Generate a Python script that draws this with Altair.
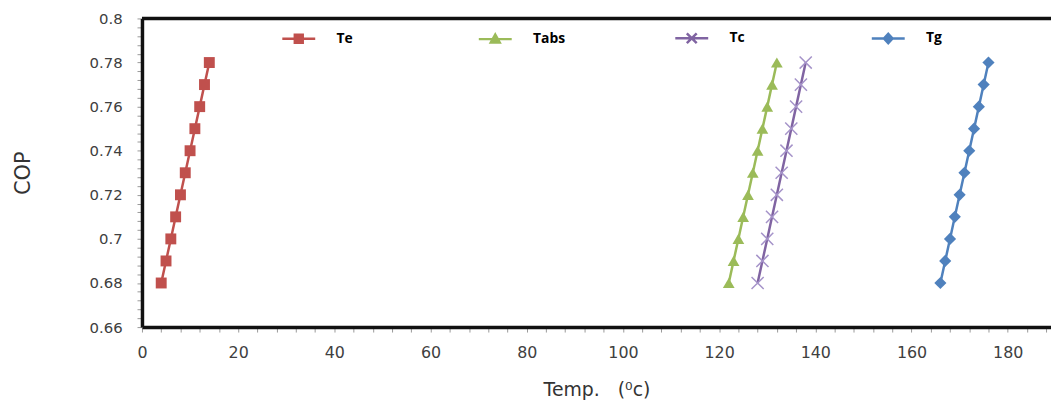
import altair as alt
import pandas as pd

series = ["Te", "Tabs", "Tc", "Tg"]
cop = [0.68, 0.69, 0.70, 0.71, 0.72, 0.73, 0.74, 0.75, 0.76, 0.77, 0.78]
temp_te = [4, 5, 6, 7, 8, 9, 10, 11, 12, 13, 14]
temp_tabs = [122, 123, 124, 125, 126, 127, 128, 129, 130, 131, 132]
temp_tc = [128, 129, 130, 131, 132, 133, 134, 135, 136, 137, 138]
temp_tg = [166, 167, 168, 169, 170, 171, 172, 173, 174, 175, 176]
colors = ["#C0504D", "#9BBB59", "#8064A2", "#4F81BD"]
x_ticks = [0, 4, 8, 12, 16, 20, 24, 28, 32, 36, 40, 44, 48, 52, 56, 60, 64, 68, 72, 76, 80,
           84, 88, 92, 96, 100, 104, 108, 112, 116, 120, 124, 128, 132, 136, 140, 144, 148,
           152, 156, 160, 164, 168, 172, 176, 180, 184, 188]
y_ticks = [0.66, 0.664, 0.668, 0.672, 0.676, 0.68, 0.684, 0.688, 0.692, 0.696, 0.70, 0.704,
           0.708, 0.712, 0.716, 0.72, 0.724, 0.728, 0.732, 0.736, 0.74, 0.744, 0.748, 0.752,
           0.756, 0.76, 0.764, 0.768, 0.772, 0.776, 0.78, 0.784, 0.788, 0.792, 0.796, 0.80]
y_top = [0.80]

temps = {"Te": temp_te, "Tabs": temp_tabs, "Tc": temp_tc, "Tg": temp_tg}
rows = []
for s in series:
    for t, c in zip(temps[s], cop):
        rows.append({"series": s, "temp": t, "cop": c})
df = pd.DataFrame(rows)

FONT = "DejaVu Sans"
LFONT = "Open Sans"
xscale = alt.Scale(domain=[0, 189], nice=False, zero=False)
yscale = alt.Scale(domain=[0.66, 0.80], nice=False, zero=False)

bottom_axis = alt.Axis(
    values=x_ticks, labelExpr="datum.value % 20 == 0 ? datum.label : ''",
    grid=False, domainColor="#111111", domainWidth=3.5, tickColor="#999999", tickSize=5,
    tickWidth=1, labelFont=FONT, labelFontSize=16, labelColor="#404040", labelPadding=13,
    titleFont=FONT, titleFontSize=19, titleFontWeight="normal", titleColor="#333333",
    titlePadding=20, labelFlush=False, labelOverlap=False)
left_axis = alt.Axis(
    values=y_ticks,
    labelExpr="abs(datum.value*50 - round(datum.value*50)) < 0.01 ? format(datum.value, '~g') : ''",
    grid=False, domainColor="#111111", domainWidth=3.5, tickColor="#999999", tickSize=5,
    tickWidth=1, labelFont=FONT, labelFontSize=15, labelColor="#404040", labelPadding=15,
    titleFont=FONT, titleFontSize=21, titleFontWeight="normal", titleColor="#333333",
    titlePadding=56, labelFlush=False, labelOverlap=False)

XT = "Temp.\u00a0\u00a0\u00a0(\u2070c)"


def xenc():
    return alt.X("temp:Q", scale=xscale, axis=bottom_axis, title=XT)


def yenc(field="cop"):
    return alt.Y(field + ":Q", scale=yscale, axis=left_axis, title="COP")


shapes = {"Te": "square", "Tabs": "triangle-up", "Tc": "M-1,-1L1,1M-1,1L1,-1", "Tg": "diamond"}
sizes = {"Te": 121, "Tabs": 140, "Tc": 150, "Tg": 150}

layers = []
for s, col in zip(series, colors):
    d = df[df.series == s]
    line = alt.Chart(d).mark_line(color=col, strokeWidth=2.5).encode(x=xenc(), y=yenc())
    if s == "Tc":
        pts = alt.Chart(d).mark_point(shape=shapes[s], filled=False, stroke="#A593C9",
                                      strokeWidth=1.5, size=sizes[s], opacity=1).encode(
            x=xenc(), y=yenc())
    else:
        pts = alt.Chart(d).mark_point(shape=shapes[s], filled=True, color=col,
                                      size=sizes[s], opacity=1).encode(x=xenc(), y=yenc())
    layers += [line, pts]

top_rule = alt.Chart(pd.DataFrame({"top": y_top})).mark_rule(
    color="#111111", strokeWidth=3.5).encode(y=yenc("top"))
layers.append(top_rule)

legend_paths = [
    "M-1,0H1M-0.24,-0.24H0.24V0.24H-0.24Z",
    "M-1,0H1M0,-0.28L0.27,0.2H-0.27Z",
    "M-1,0H1M-0.3,-0.3L0.3,0.3M-0.3,0.3L0.3,-0.3",
    "M-1,0H1M0,-0.28L0.26,0L0,0.28L-0.26,0Z",
]
legend_layer = alt.Chart(df).transform_filter("false").mark_point(filled=True, opacity=1).encode(
    x=xenc(), y=yenc(),
    shape=alt.Shape("series:N", scale=alt.Scale(domain=series, range=legend_paths), title=None),
    fill=alt.Fill("series:N", scale=alt.Scale(domain=series, range=colors), title=None),
    stroke=alt.Stroke("series:N", scale=alt.Scale(domain=series, range=colors), title=None),
)
layers.append(legend_layer)

chart = alt.layer(*layers).properties(
    width=916, height=311,
    autosize=alt.AutoSizeParams(type="none"),
    padding={"left": 135, "top": 9, "right": 0, "bottom": 79},
).configure_view(stroke=None).configure_legend(
    orient="none", legendX=140, legendY=2, direction="horizontal", columns=4,
    gridAlign="all", columnPadding=105, symbolSize=1100, symbolStrokeWidth=2.5,
    labelFont=LFONT, labelFontWeight="bold", labelFontSize=14, labelColor="black",
    labelOffset=20, padding=0,
)

chart.save("out.html", embed_options={"renderer": "svg", "actions": False})
